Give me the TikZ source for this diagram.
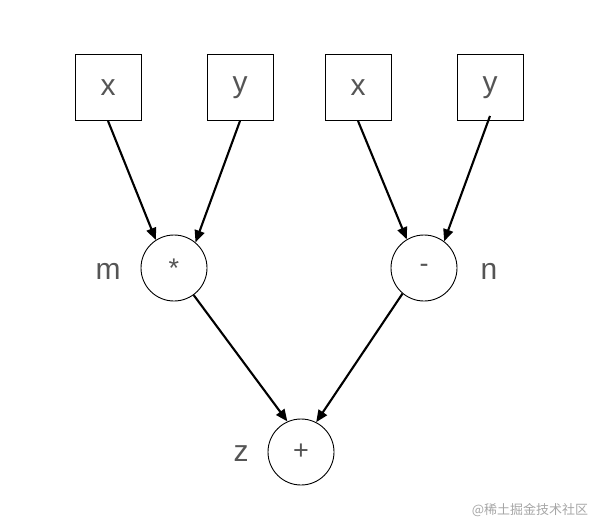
\documentclass[tikz,border=0pt]{standalone}
\usepackage{fontspec}
\setmainfont{Liberation Sans}
\newfontfamily\cjkfont{Noto Sans CJK SC}
\usetikzlibrary{arrows.meta,positioning}
\definecolor{txtgray}{HTML}{555555}
\tikzset{
    varbox/.style={draw, line width=0.9pt, minimum size=66pt, inner sep=0pt, text=txtgray, font=\fontsize{30}{34}\selectfont},
    opnode/.style={draw, circle, line width=0.9pt, minimum size=66pt, inner sep=0pt, text=txtgray, font=\fontsize{27}{30}\selectfont},
    varname/.style={text=txtgray, font=\fontsize{30}{34}\selectfont},
    edge/.style={line width=2.1pt, -{Triangle[length=12pt,width=10pt]}}
}
\begin{document}
\begin{tikzpicture}[x=1pt, y=-1pt]
        \useasboundingbox (0, 0) rectangle (604, 530);
        % inputs
        \node[varbox] (x1) at (108, 87.5) {x};
        \node[varbox] (y1) at (240, 87.5) {y};
        \node[varbox] (x2) at (358, 87.5) {x};
        \node[varbox] (y2) at (490, 87.5) {y};
        % operations
        \node[opnode] (mul) at (174, 268) {*};
        \node[opnode] (sub) at (424, 268) {-};
        \node[opnode] (add) at (301, 452) {+};
        \node[varname] (labm) at (108, 271) {m};
        \node[varname] (labn) at (489, 271) {n};
        \node[varname] (labz) at (241, 454) {z};
        \draw[edge] (x1.south) -- (mul.123);
        \draw[edge] (y1.south) -- (mul.50);
        \draw[edge] (x2.south) -- (sub.121);
        \draw[edge] ([yshift=5pt]y2.south) -- (sub.53);
        \draw[edge] (mul.-54) -- (add.114);
        \draw[edge] (sub.230) -- (add.63);
        \node[text=gray!70, font=\cjkfont\fontsize{13}{15}\selectfont] (mark) at (530, 510) {@稀土掘金技术社区};
\end{tikzpicture}
\end{document}
